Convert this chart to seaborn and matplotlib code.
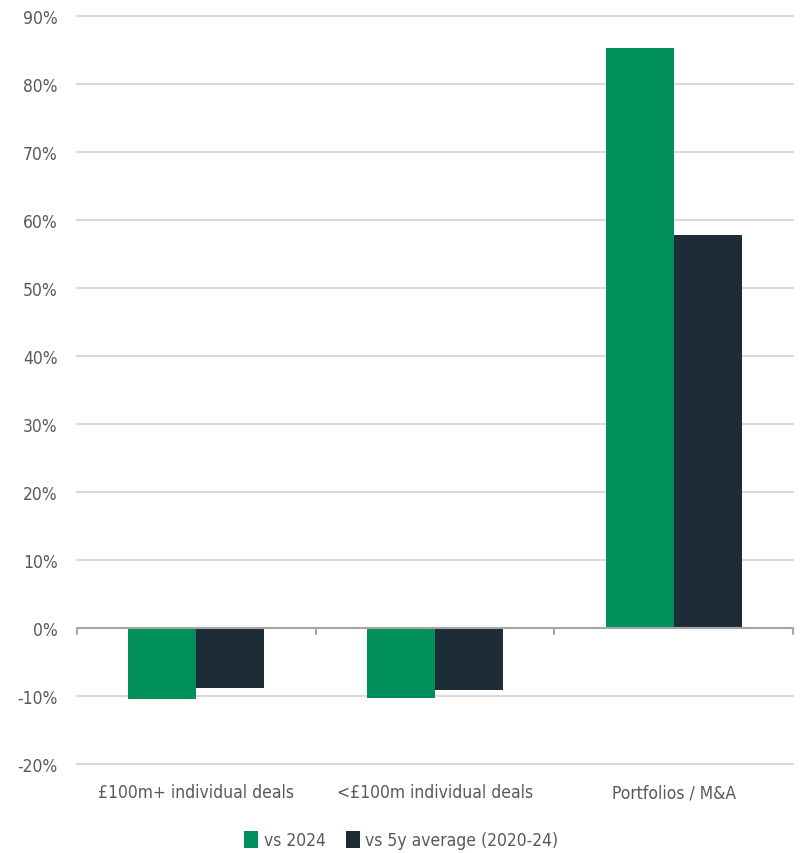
import matplotlib
matplotlib.use("Agg")
import matplotlib.pyplot as plt
import matplotlib.transforms as mtransforms
from matplotlib.patches import Patch
import seaborn as sns
import pandas as pd

categories = ["£100m+ individual deals", "<£100m individual deals", "Portfolios / M&A"]
series = ["vs 2024", "vs 5y average (2020-24)"]
vs_2024 = [-10.4, -10.3, 85.3]
vs_5y = [-8.8, -9.1, 57.8]
colors = ["#008F5A", "#1C2D38"]

df = pd.DataFrame({
    "category": categories * 2,
    "series": [series[0]] * 3 + [series[1]] * 3,
    "value": vs_2024 + vs_5y,
})

sns.set_style("white")
plt.rcParams["font.family"] = ["DejaVu Sans"]
plt.rcParams["font.stretch"] = "condensed"
plt.rcParams["font.weight"] = "light"

fig = plt.figure(figsize=(8.03, 8.54), dpi=100)
ax = fig.add_axes([77 / 803, 1 - 765 / 854, (793 - 77) / 803, (765 - 17) / 854])

sns.barplot(data=df, x="category", y="value", hue="series", order=categories,
            hue_order=series, palette=colors, width=0.57, gap=0, saturation=1,
            ax=ax, legend=False, linewidth=0)

ax.set_ylim(-20, 90)
ax.set_xlim(-0.5, 2.5)
ax.set_yticks(range(-20, 91, 10))
ax.set_yticklabels([f"{v}%" for v in range(-20, 91, 10)], color="#595959", fontsize=12.5)
ax.yaxis.grid(True, color="#d9d9d9", linewidth=1.5)
for gl in ax.get_ygridlines():
    gl.set_clip_on(False)
ax.set_axisbelow(True)
for s in ax.spines.values():
    s.set_visible(False)
ax.tick_params(axis="y", length=0, pad=14)
ax.tick_params(axis="x", length=0, pad=14, labelsize=12.5, labelcolor="#595959")
ax.set_xlabel("")
ax.set_ylabel("")

ax.axhline(0, color="#a6a6a6", linewidth=1.5, zorder=3)
trans = mtransforms.blended_transform_factory(ax.transData, ax.transData)
for b in [-0.5, 0.5, 1.5, 2.5]:
    ax.plot([b, b], [0, -0.9], color="#a6a6a6", linewidth=1.5, transform=trans,
            clip_on=False, zorder=3)

handles = [Patch(facecolor=c, edgecolor="none") for c in colors]
fig.legend(handles, series, loc="lower center", bbox_to_anchor=(0.5, -0.014), ncol=2,
           frameon=False, fontsize=12.5, handlelength=0.8, handleheight=1.1,
           handletextpad=0.3, columnspacing=1.2, labelcolor="#595959")

fig.savefig("out.png", dpi=100)
